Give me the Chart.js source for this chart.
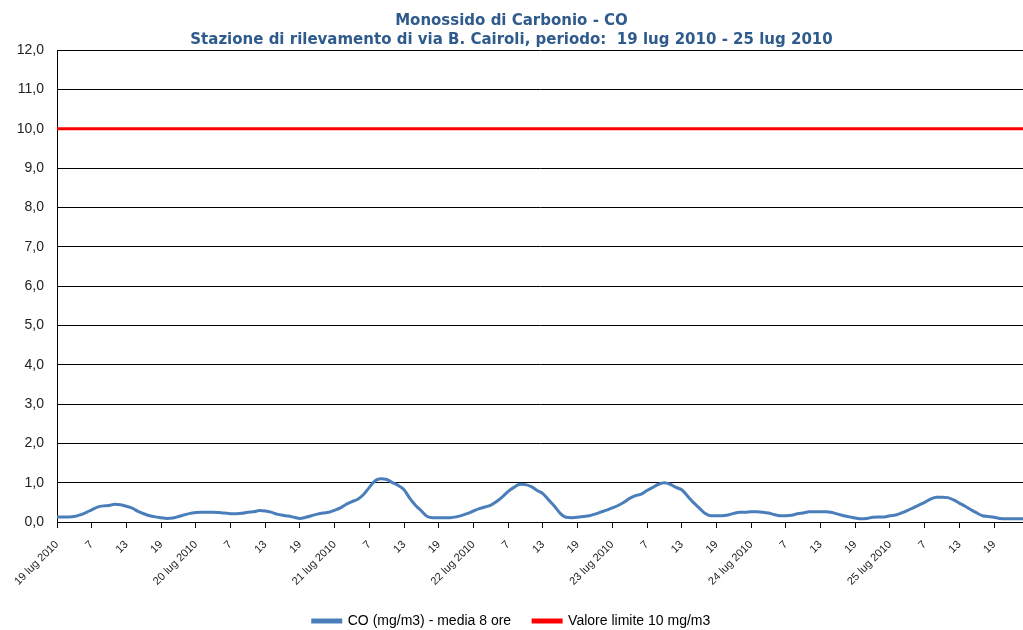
<!DOCTYPE html>
<html>
<head>
<meta charset="utf-8">
<script src="https://cdn.jsdelivr.net/npm/chart.js@4"></script>
<style>
  body { margin: 0; background: #fff; }
  #wrap { width: 1023px; height: 630px; }
</style>
</head>
<body>
<div id="wrap"><canvas id="coChart"></canvas></div>
<script>
// Days of the period (one category per hour, 1..24)
const days = ['19 lug 2010', '20 lug 2010', '21 lug 2010', '22 lug 2010', '23 lug 2010', '24 lug 2010', '25 lug 2010'];
const hours = [1, 2, 3, 4, 5, 6, 7, 8, 9, 10, 11, 12, 13, 14, 15, 16, 17, 18, 19, 20, 21, 22, 23, 24];
const yTicks = [0, 1, 2, 3, 4, 5, 6, 7, 8, 9, 10, 11, 12];

// CO (mg/m3) - media 8 ore, hourly values
const coDay19 = [0.13, 0.13, 0.13, 0.14, 0.18, 0.24, 0.31, 0.38, 0.41, 0.42, 0.45, 0.44, 0.40, 0.35, 0.27, 0.21, 0.16, 0.13, 0.11, 0.09, 0.10, 0.14, 0.18, 0.22];
const coDay20 = [0.24, 0.25, 0.25, 0.25, 0.24, 0.23, 0.21, 0.21, 0.22, 0.25, 0.26, 0.29, 0.28, 0.25, 0.20, 0.17, 0.15, 0.12, 0.09, 0.12, 0.16, 0.20, 0.23, 0.25];
const coDay21 = [0.30, 0.36, 0.45, 0.52, 0.58, 0.70, 0.88, 1.05, 1.10, 1.08, 1.00, 0.93, 0.82, 0.60, 0.42, 0.28, 0.14, 0.11, 0.11, 0.11, 0.11, 0.13, 0.17, 0.22];
const coDay22 = [0.28, 0.34, 0.38, 0.43, 0.52, 0.64, 0.78, 0.88, 0.96, 0.95, 0.90, 0.80, 0.72, 0.56, 0.40, 0.22, 0.12, 0.11, 0.12, 0.14, 0.16, 0.20, 0.25, 0.30];
const coDay23 = [0.36, 0.42, 0.50, 0.60, 0.67, 0.71, 0.80, 0.88, 0.96, 1.00, 0.96, 0.88, 0.82, 0.66, 0.50, 0.36, 0.22, 0.16, 0.16, 0.16, 0.18, 0.22, 0.25, 0.25];
const coDay24 = [0.26, 0.26, 0.25, 0.23, 0.19, 0.16, 0.16, 0.17, 0.21, 0.23, 0.26, 0.26, 0.26, 0.26, 0.24, 0.20, 0.16, 0.13, 0.10, 0.08, 0.09, 0.12, 0.13, 0.13];
const coDay25 = [0.16, 0.18, 0.23, 0.29, 0.36, 0.43, 0.50, 0.58, 0.63, 0.63, 0.62, 0.56, 0.48, 0.40, 0.31, 0.23, 0.16, 0.14, 0.12, 0.09, 0.08, 0.08, 0.08, 0.08];
const limitValue = 10;

const labels = [];
days.forEach(d => hours.forEach(h => labels.push(h === 1 ? d : String(h))));
const coValues = [].concat(coDay19, coDay20, coDay21, coDay22, coDay23, coDay24, coDay25);
const limitValues = labels.map(() => limitValue);

const ctx = document.getElementById('coChart').getContext('2d');
const coChart = new Chart(ctx, {
    type: 'line',
    data: {
        labels: labels,
        datasets: [{
            label: 'CO (mg/m3) - media 8 ore',
            data: coValues,
            borderColor: '#4A7EBB',
            backgroundColor: '#4A7EBB',
            borderWidth: 3,
            pointRadius: 0,
            cubicInterpolationMode: 'monotone'
        }, {
            label: 'Valore limite 10 mg/m3',
            data: limitValues,
            borderColor: '#FF0000',
            backgroundColor: '#FF0000',
            borderWidth: 3,
            pointRadius: 0
        }]
    },
    options: {
        responsive: true,
        maintainAspectRatio: false,
        animation: false,
        layout: { padding: { left: 0, right: 0, top: 0, bottom: -8 } },
        plugins: {
            title: {
                display: true,
                text: ['Monossido di Carbonio - CO', 'Stazione di rilevamento di via B. Cairoli, periodo:  19 lug 2010 - 25 lug 2010'],
                color: '#2F5B8C',
                font: { family: 'DejaVu Sans', size: 15, weight: 'bold', lineHeight: 1.27 },
                padding: { top: 12, bottom: 0 }
            },
            legend: {
                position: 'bottom',
                labels: {
                    color: '#000',
                    font: { family: 'Liberation Sans', size: 14 },
                    boxWidth: 28,
                    boxHeight: 2,
                    padding: 22
                }
            },
            tooltip: { enabled: false }
        },
        scales: {
            x: {
                grid: {
                    drawOnChartArea: false,
                    tickLength: 6,
                    color: c => (c.index % 6 === 0 ? '#000' : 'rgba(0,0,0,0)')
                },
                border: { color: '#000', width: 1 },
                ticks: {
                    autoSkip: false,
                    maxRotation: 45,
                    minRotation: 45,
                    padding: 10,
                    color: '#222',
                    font: { family: 'Liberation Sans', size: 11 },
                    callback: function(value, index) {
                        return index % 6 === 0 ? this.getLabelForValue(value) : '';
                    }
                },
                afterFit: scale => { scale.paddingRight = 0; scale.height = 70; }
            },
            y: {
                min: 0,
                max: 12,
                afterBuildTicks: scale => { scale.ticks = yTicks.map(v => ({ value: v })); },
                grid: { color: '#000', lineWidth: 1, drawTicks: false },
                border: { color: '#000', width: 1 },
                ticks: {
                    padding: 13,
                    color: '#222',
                    font: { family: 'Liberation Sans', size: 14 },
                    callback: v => v.toFixed(1).replace('.', ',')
                },
                afterFit: scale => { scale.width = 57; }
            }
        }
    }
});
</script>
</body>
</html>
